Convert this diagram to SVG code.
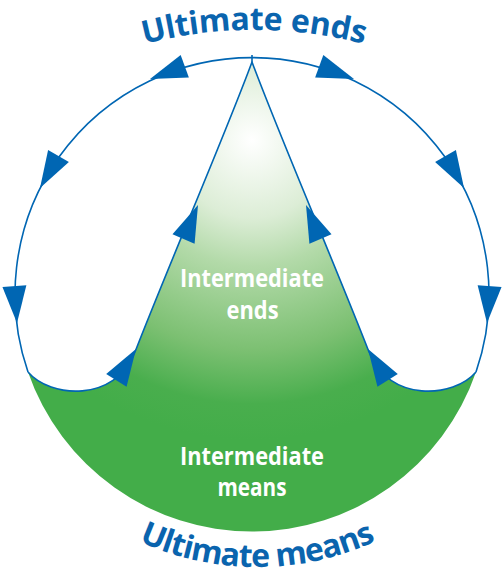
<svg xmlns="http://www.w3.org/2000/svg" xmlns:xlink="http://www.w3.org/1999/xlink" width="504" height="574" viewBox="0 0 504 574">
<style>
.ln{fill:none;stroke:#0066b3;stroke-width:1.6;stroke-linejoin:round}
.ah{fill:#0066b3}
.big{font-family:"Open Sans","Noto Sans",sans-serif;font-weight:bold;font-size:32px;fill:#0a64ae}
.mid{font-family:"Open Sans","Noto Sans",sans-serif;font-weight:bold;font-size:25px;fill:#ffffff;text-anchor:middle}
</style>
<defs>
<radialGradient id="gr" gradientUnits="userSpaceOnUse" cx="252" cy="140" r="300">
<stop offset="0" stop-color="#ffffff"/>
<stop offset="0.26" stop-color="#dcedd6"/>
<stop offset="0.42" stop-color="#b3daa9"/>
<stop offset="0.7" stop-color="#7cc072"/>
<stop offset="0.88" stop-color="#49ae4d"/>
<stop offset="1" stop-color="#43ad49"/>
</radialGradient>
<polygon id="ah" points="0,0 -37,-12 -37,12"/>
<path id="tp1" d="M54,78.8 A434,434 0 0 1 454,78.8"/>
<path id="tp2" d="M57,485.4 A286,286 0 0 0 457,485.4"/>
</defs>
<g id="region">
<path fill="url(#gr)" d="M28,372 A237,237 0 0 0 476,372 C454,398 389,403 369,352 C334,262 279,135 252,62 C225,135 170,262 135,352 C115,403 50,398 28,372 Z"/>
</g>
<g id="connectors">
<path class="ln" d="M28,372 A237,237 0 1 1 476,372"/>
<path class="ln" d="M252,55 L252,62"/>
<path class="ln" d="M28,372 C50,398 115,403 135,352 C170,262 225,135 252,62 C279,135 334,262 369,352 C389,403 454,398 476,372"/>
<g class="ah">
<use href="#ah" transform="translate(150,79) rotate(160)"/>
<use href="#ah" transform="translate(40,188) rotate(120)"/>
<use href="#ah" transform="translate(17,323) rotate(86)"/>
<use href="#ah" transform="translate(136,349) rotate(-58)"/>
<use href="#ah" transform="translate(198,205) rotate(-67)"/>
<use href="#ah" transform="translate(354,79) rotate(20)"/>
<use href="#ah" transform="translate(464,188) rotate(60)"/>
<use href="#ah" transform="translate(487,323) rotate(94)"/>
<use href="#ah" transform="translate(368,349) rotate(-122)"/>
<use href="#ah" transform="translate(306,205) rotate(-113)"/>
</g>
</g>
<g id="node-ultimate-ends">
<text class="big" letter-spacing="-0.3"><textPath href="#tp1" startOffset="50%" text-anchor="middle">Ultimate ends</textPath></text>
</g>
<g id="node-ultimate-means">
<text class="big" letter-spacing="-0.9"><textPath href="#tp2" startOffset="50%" text-anchor="middle">Ultimate means</textPath></text>
</g>
<g id="node-intermediate-ends">
<text class="mid" x="252" y="287" textLength="144" lengthAdjust="spacingAndGlyphs">Intermediate</text>
<text class="mid" x="252.5" y="319" textLength="52" lengthAdjust="spacingAndGlyphs">ends</text>
</g>
<g id="node-intermediate-means">
<text class="mid" x="252" y="465" textLength="144" lengthAdjust="spacingAndGlyphs">Intermediate</text>
<text class="mid" x="252" y="496" textLength="69" lengthAdjust="spacingAndGlyphs">means</text>
</g>
</svg>
